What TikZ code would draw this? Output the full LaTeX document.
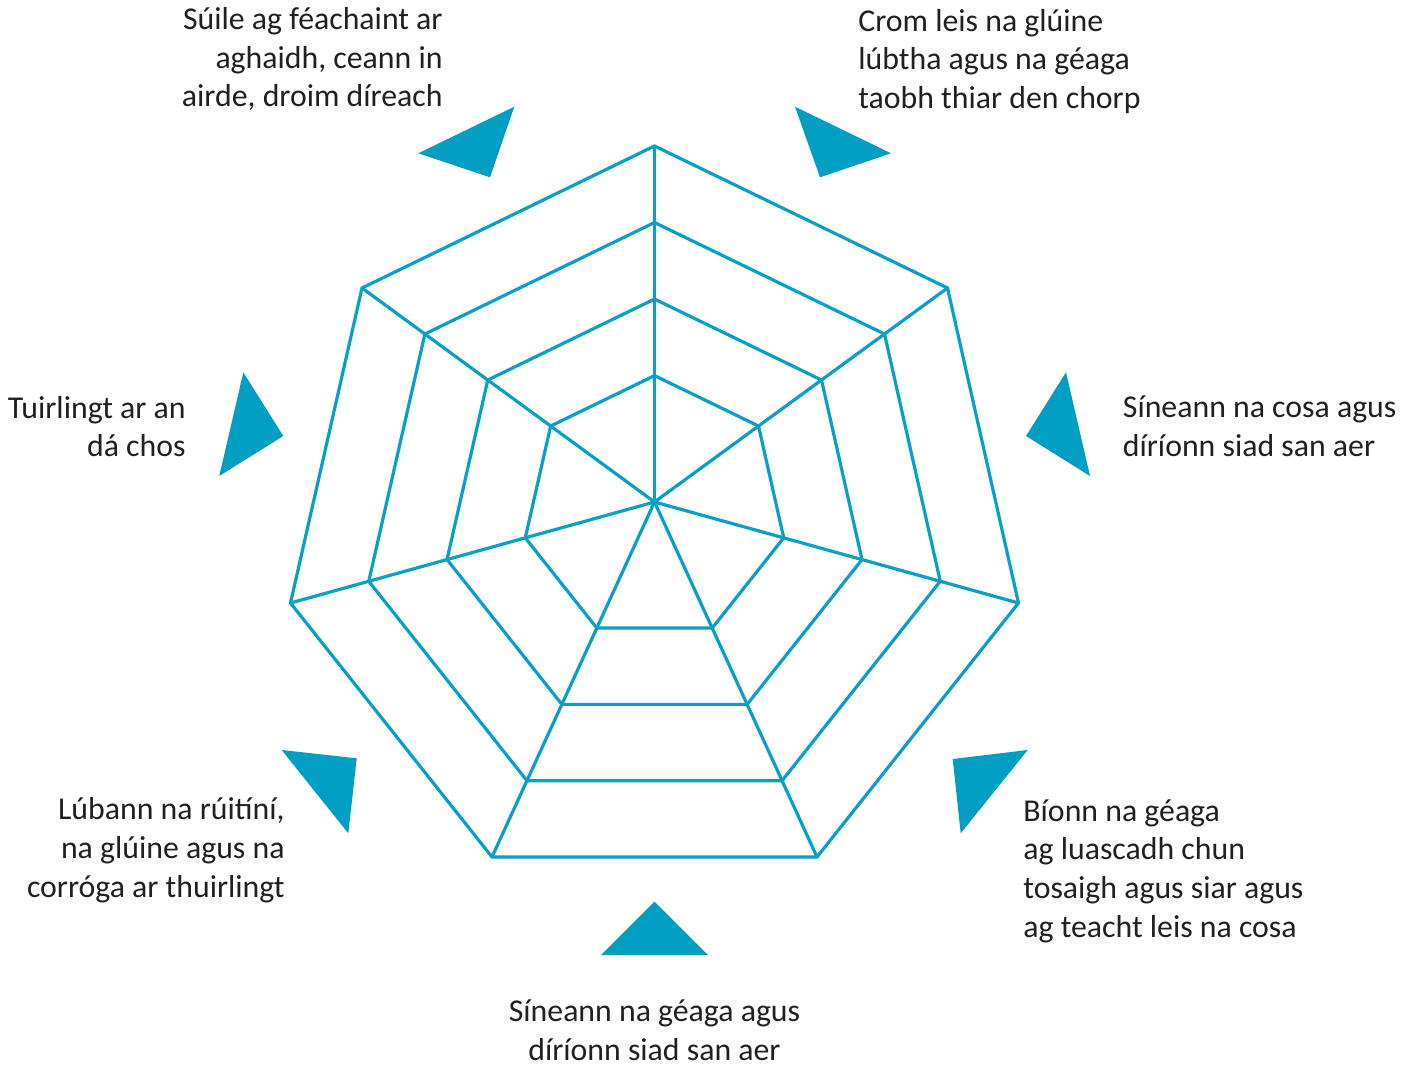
\documentclass[tikz,border=0pt]{standalone}
\usepackage{fontspec}
\setmainfont{Carlito}
\usetikzlibrary{calc}
\definecolor{radarblue}{HTML}{0A9FC5}
\definecolor{radarfill}{HTML}{009EC3}
\definecolor{radartext}{HTML}{231F20}

\begin{document}
\begin{tikzpicture}[
  x=0.5pt, y=-0.5pt,
  web/.style={draw=radarblue, line width=1.6pt, line join=miter},
  marker/.style={fill=radarfill, draw=none},
  lbl/.style={font=\fontsize{15.9}{19.3}\selectfont, text=radartext, inner sep=0pt}
]
\useasboundingbox (0,0) rectangle (1413,1068);

% centre and outer corners of the web
\coordinate (c) at (654.5,502);
\coordinate (v1) at (654.5,146);
\coordinate (v2) at (947.5,288);
\coordinate (v3) at (1018.5,603);
\coordinate (v4) at (817,857);
\coordinate (v5) at (492,857);
\coordinate (v6) at (290.5,603);
\coordinate (v7) at (362,288);

% rings
\foreach \f in {0.355,0.57,0.785,1}
  \draw[web] ($(c)!\f!(v1)$) -- ($(c)!\f!(v2)$) -- ($(c)!\f!(v3)$) -- ($(c)!\f!(v4)$)
    -- ($(c)!\f!(v5)$) -- ($(c)!\f!(v6)$) -- ($(c)!\f!(v7)$) -- cycle;
% spokes
\foreach \i in {1,...,7}
  \draw[web] (c) -- (v\i);

% pointers
\fill[marker] (418.3,153.3) -- (514.3,106.7) -- (490,177.3) -- cycle;
\fill[marker] (795,106.7) -- (891,153.3) -- (820,177.3) -- cycle;
\fill[marker] (1066,372.3) -- (1026,436) -- (1090,476) -- cycle;
\fill[marker] (952.7,759) -- (1027.7,750) -- (960.7,833.3) -- cycle;
\fill[marker] (654.5,901.7) -- (708,955) -- (601,955) -- cycle;
\fill[marker] (281.7,750) -- (356.7,758.3) -- (348.3,833.3) -- cycle;
\fill[marker] (243.3,372.3) -- (283.3,436) -- (219.3,476) -- cycle;

% labels (anchored on the baseline of the last line)
\node[lbl, anchor=base east, align=right] (look) at (443,107) {Súile ag féachaint ar\\aghaidh, ceann in\\airde, droim díreach};
\node[lbl, anchor=base west, align=left] (crouch) at (858,108.5) {Crom leis na glúine\\lúbtha agus na géaga\\taobh thiar den chorp};
\node[lbl, anchor=base west, align=left] (legs) at (1122.5,456.5) {Síneann na cosa agus\\díríonn siad san aer};
\node[lbl, anchor=base west, align=left] (swing) at (1023,937) {Bíonn na géaga\\ag luascadh chun\\tosaigh agus siar agus\\ag teacht leis na cosa};
\node[lbl, anchor=base, align=center] (arms) at (654.5,1060.5) {Síneann na géaga agus\\díríonn siad san aer};
\node[lbl, anchor=base east, align=right] (bend) at (285,897) {Lúbann na rúitíní,\\na glúine agus na\\corróga ar thuirlingt};
\node[lbl, anchor=base east, align=right] (land) at (186,457) {Tuirlingt ar an\\dá chos};
\end{tikzpicture}
\end{document}
